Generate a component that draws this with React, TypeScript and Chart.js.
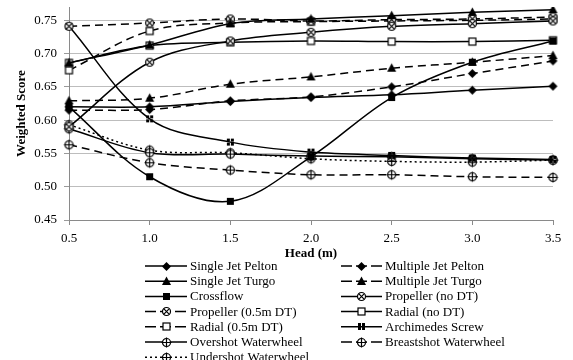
import React, { useEffect, useRef } from 'react';
import { Chart, registerables } from 'chart.js';

Chart.register(...registerables);

// ---- data ----
const heads = ['0.5', '1.0', '1.5', '2.0', '2.5', '3.0', '3.5'];
const yTicks = [0.45, 0.5, 0.55, 0.6, 0.65, 0.7, 0.75];

const singleJetPelton = [0.620, 0.620, 0.628, 0.634, 0.638, 0.645, 0.651];
const multipleJetPelton = [0.615, 0.616, 0.629, 0.635, 0.650, 0.670, 0.689];
const singleJetTurgo = [0.686, 0.713, 0.745, 0.752, 0.757, 0.762, 0.766];
const multipleJetTurgo = [0.629, 0.633, 0.654, 0.665, 0.678, 0.687, 0.697];
const crossflow = [0.620, 0.515, 0.478, 0.545, 0.634, 0.687, 0.719];
const propellerNoDT = [0.590, 0.687, 0.719, 0.732, 0.741, 0.745, 0.749];
const propeller05DT = [0.741, 0.746, 0.752, 0.749, 0.751, 0.752, 0.755];
const radialNoDT = [0.686, 0.712, 0.717, 0.719, 0.718, 0.718, 0.720];
const radial05DT = [0.675, 0.734, 0.746, 0.748, 0.749, 0.750, 0.752];
const archimedesScrew = [0.741, 0.602, 0.567, 0.552, 0.547, 0.543, 0.541];
const overshotWaterwheel = [0.587, 0.551, 0.549, 0.546, 0.545, 0.542, 0.540];
const breastshotWaterwheel = [0.563, 0.536, 0.525, 0.518, 0.518, 0.515, 0.514];
const undershotWaterwheel = [0.593, 0.555, 0.551, 0.542, 0.538, 0.537, 0.540];

const FONT = '"Liberation Serif", "Times New Roman", serif';
const DASH = [8, 5];
const DOT = [2, 3];

function makeMarker(kind: string): HTMLCanvasElement {
  const c = document.createElement('canvas');
  c.width = 13;
  c.height = 13;
  const g = c.getContext('2d')!;
  const m = 6.5;
  g.fillStyle = '#000';
  g.strokeStyle = '#000';
  g.lineWidth = 1.2;
  switch (kind) {
    case 'diamond':
      g.beginPath();
      g.moveTo(m, m - 4.5);
      g.lineTo(m + 4.5, m);
      g.lineTo(m, m + 4.5);
      g.lineTo(m - 4.5, m);
      g.closePath();
      g.fill();
      break;
    case 'triangle':
      g.beginPath();
      g.moveTo(m, m - 5);
      g.lineTo(m + 4.5, m + 3.5);
      g.lineTo(m - 4.5, m + 3.5);
      g.closePath();
      g.fill();
      break;
    case 'square':
      g.fillRect(m - 3.5, m - 3.5, 7, 7);
      break;
    case 'openSquare':
      g.fillStyle = '#fff';
      g.fillRect(m - 3.5, m - 3.5, 7, 7);
      g.strokeRect(m - 3.5, m - 3.5, 7, 7);
      break;
    case 'circleX':
      g.fillStyle = '#fff';
      g.beginPath();
      g.arc(m, m, 4, 0, Math.PI * 2);
      g.fill();
      g.stroke();
      g.beginPath();
      g.moveTo(m - 2.6, m - 2.6);
      g.lineTo(m + 2.6, m + 2.6);
      g.moveTo(m + 2.6, m - 2.6);
      g.lineTo(m - 2.6, m + 2.6);
      g.stroke();
      break;
    case 'circlePlus':
      g.fillStyle = '#fff';
      g.beginPath();
      g.arc(m, m, 4, 0, Math.PI * 2);
      g.fill();
      g.stroke();
      g.beginPath();
      g.moveTo(m - 5, m);
      g.lineTo(m + 5, m);
      g.moveTo(m, m - 5);
      g.lineTo(m, m + 5);
      g.stroke();
      break;
    case 'hash':
      g.fillRect(m - 3.5, m - 3.5, 3, 3);
      g.fillRect(m + 0.5, m - 3.5, 3, 3);
      g.fillRect(m - 3.5, m + 0.5, 3, 3);
      g.fillRect(m + 0.5, m + 0.5, 3, 3);
      break;
  }
  return c;
}

const legendPlugin = {
  id: 'twoColumnLegend',
  afterDraw(chart: any) {
    const ctx = chart.ctx;
    ctx.save();
    chart.data.datasets.forEach((ds: any, i: number) => {
      const col = i % 2;
      const row = Math.floor(i / 2);
      const x0 = col === 0 ? 145 : 341;
      const w = col === 0 ? 42 : 41;
      const y = 266 + row * 15.2;
      const dash = ds.borderDash && ds.borderDash.length ? (ds.borderDash[0] > 3 ? [11, 4] : [2, 3]) : [];
      ctx.strokeStyle = '#000';
      ctx.lineWidth = ds.borderWidth;
      ctx.setLineDash(dash);
      ctx.beginPath();
      ctx.moveTo(x0, y);
      ctx.lineTo(x0 + w, y);
      ctx.stroke();
      ctx.setLineDash([]);
      const img = ds.pointStyle as HTMLCanvasElement;
      ctx.drawImage(img, Math.round(x0 + w / 2 - img.width / 2), Math.round(y - img.height / 2));
      ctx.fillStyle = '#000';
      ctx.font = `13px ${FONT}`;
      ctx.textBaseline = 'middle';
      ctx.textAlign = 'left';
      ctx.fillText(ds.label, x0 + w + 3, y + 0.5);
    });
    ctx.restore();
  },
};

export default function App() {
  const ref = useRef<HTMLCanvasElement | null>(null);

  useEffect(() => {
    if (!ref.current) return;
    const mk = (label: string, data: number[], marker: string, dash: number[]) => ({
      label,
      data,
      borderColor: '#000',
      backgroundColor: '#000',
      borderWidth: 1.5,
      borderDash: dash,
      pointStyle: makeMarker(marker),
      pointRadius: 5,
      tension: 0.35,
      fill: false,
    });
    const datasets = [
      mk('Single Jet Pelton', singleJetPelton, 'diamond', []),
      mk('Multiple Jet Pelton', multipleJetPelton, 'diamond', DASH),
      mk('Single Jet Turgo', singleJetTurgo, 'triangle', []),
      mk('Multiple Jet Turgo', multipleJetTurgo, 'triangle', DASH),
      mk('Crossflow', crossflow, 'square', []),
      mk('Propeller (no DT)', propellerNoDT, 'circleX', []),
      mk('Propeller (0.5m DT)', propeller05DT, 'circleX', DASH),
      mk('Radial (no DT)', radialNoDT, 'openSquare', []),
      mk('Radial (0.5m DT)', radial05DT, 'openSquare', DASH),
      mk('Archimedes Screw', archimedesScrew, 'hash', []),
      mk('Overshot Waterwheel', overshotWaterwheel, 'circlePlus', []),
      mk('Breastshot Waterwheel', breastshotWaterwheel, 'circlePlus', DASH),
      mk('Undershot Waterwheel', undershotWaterwheel, 'circlePlus', DOT),
    ];

    const chart = new Chart(ref.current, {
      type: 'line',
      data: { labels: heads, datasets },
      plugins: [legendPlugin],
      options: {
        responsive: false,
        animation: false,
        devicePixelRatio: 1,
        layout: { padding: { top: 7, right: 20, left: 0, bottom: 0 } },
        plugins: { legend: { display: false }, tooltip: { enabled: false } },
        scales: {
          x: {
            type: 'category',
            offset: false,
            grid: { drawOnChartArea: false, tickLength: 5, color: '#8a8a8a' },
            border: { color: '#8a8a8a', width: 1 },
            ticks: { color: '#000', font: { family: FONT, size: 13 }, padding: 6, maxRotation: 0 },
            title: {
              display: true,
              text: 'Head (m)',
              color: '#000',
              font: { family: FONT, size: 13, weight: 'bold' },
              padding: { top: 0, bottom: 99 },
            },
            afterFit: (s: any) => {
              s.height = 140;
              s.paddingLeft = 0;
              s.paddingRight = 0;
            },
          },
          y: {
            min: 0.45,
            max: 0.77,
            afterBuildTicks: (s: any) => {
              s.ticks = yTicks.map((v) => ({ value: v }));
            },
            grid: { color: '#bdbdbd', tickLength: 5, tickColor: '#9a9a9a' },
            border: { color: '#8a8a8a', width: 1 },
            ticks: {
              color: '#000',
              font: { family: FONT, size: 13 },
              padding: 7,
              callback: (v: any) => Number(v).toFixed(2),
            },
            title: {
              display: true,
              text: 'Weighted Score',
              color: '#000',
              font: { family: FONT, size: 13, weight: 'bold' },
              padding: { top: 14, bottom: 0 },
            },
            afterFit: (s: any) => {
              s.width = 69;
              s.paddingTop = 0;
              s.paddingBottom = 0;
            },
          },
        },
      },
    } as any);
    return () => chart.destroy();
  }, []);

  return (
    <div style={{ position: 'fixed', left: 0, top: 0, width: 573, height: 360, background: '#fff' }}>
      <canvas ref={ref} width={573} height={360} style={{ width: 573, height: 360, display: 'block' }} />
    </div>
  );
}
